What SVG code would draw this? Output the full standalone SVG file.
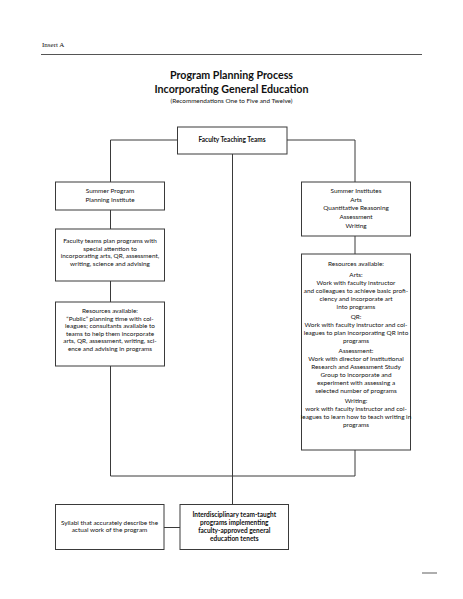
<svg xmlns="http://www.w3.org/2000/svg" width="463" height="599" viewBox="0 0 463 599">
<style>
.box{fill:#fff;stroke:#3a3a3a;stroke-width:1}
.ln{fill:none;stroke:#3a3a3a;stroke-width:1}
text{font-family:Lato,"Liberation Sans",sans-serif;fill:#111;text-anchor:middle}
.t{font-size:6.4px}
.b{font-size:6.5px;font-weight:bold}
.h{font-size:11.5px;font-weight:bold}
.s{font-size:6px}
</style>
<rect width="463" height="599" fill="#fff"/>
<g id="header">
<text x="42" y="46.5" style="font-family:'Liberation Serif',serif;font-size:7px;text-anchor:start">Insert A</text>
<line x1="41" y1="54.5" x2="422" y2="54.5" stroke="#555" stroke-width="1.2"/>
<line x1="422" y1="573" x2="437" y2="573" stroke="#777" stroke-width="1.2"/>
<text class="h" x="231.5" y="79" textLength="123" lengthAdjust="spacingAndGlyphs">Program Planning Process</text>
<text class="h" x="231.5" y="93" textLength="154" lengthAdjust="spacingAndGlyphs">Incorporating General Education</text>
<text class="s" x="231.5" y="102.5" textLength="122" lengthAdjust="spacingAndGlyphs">(Recommendations One to Five and Twelve)</text>
</g>
<g id="connectors">
<polyline class="ln" points="177,140 110.5,140 110.5,182"/>
<polyline class="ln" points="287,140 355,140 355,182"/>
<line class="ln" x1="232.5" y1="154" x2="232.5" y2="504"/>
<line class="ln" x1="110.5" y1="210" x2="110.5" y2="229"/>
<line class="ln" x1="110.5" y1="281" x2="110.5" y2="302"/>
<line class="ln" x1="355" y1="236" x2="355" y2="254"/>
<polyline class="ln" points="110.5,366 110.5,476 355,476 355,450"/>
<line class="ln" x1="164" y1="527.5" x2="180" y2="527.5"/>
</g>
<g id="faculty-teams">
<rect class="box" x="177.5" y="127" width="109.5" height="27"/>
<text class="b" x="232" y="142.3">Faculty Teaching Teams</text>
</g>
<g id="summer-program">
<rect class="box" x="55.5" y="182" width="109" height="28"/>
<text class="t" x="110" y="193">Summer Program</text>
<text class="t" x="110" y="201.5">Planning Institute</text>
</g>
<g id="summer-institutes">
<rect class="box" x="301.5" y="182" width="109" height="54"/>
<text class="t" x="356" y="193">Summer Institutes</text>
<text class="t" x="356" y="201.7">Arts</text>
<text class="t" x="356" y="210.4">Quantitative Reasoning</text>
<text class="t" x="356" y="219.1">Assessment</text>
<text class="t" x="356" y="227.8">Writing</text>
</g>
<g id="faculty-plan">
<rect class="box" x="55.5" y="229" width="109" height="52"/>
<text class="t" x="110" y="243">Faculty teams plan programs with</text>
<text class="t" x="110" y="250.5">special attention to</text>
<text class="t" x="110" y="258">incorporating arts, QR, assessment,</text>
<text class="t" x="110" y="265.5">writing, science and advising</text>
</g>
<g id="resources-left">
<rect class="box" x="55.5" y="302" width="109" height="64"/>
<text class="t" x="110" y="313">Resources available:</text>
<text class="t" x="110" y="320.5">“Public” planning time with col-</text>
<text class="t" x="110" y="328">leagues; consultants available to</text>
<text class="t" x="110" y="335.5">teams to help them incorporate</text>
<text class="t" x="110" y="343">arts, QR, assessment, writing, sci-</text>
<text class="t" x="110" y="350.5">ence and advising in programs</text>
</g>
<g id="resources-right">
<rect class="box" x="301.5" y="254" width="109" height="196"/>
<text class="t" x="356" y="265.5">Resources available:</text>
<text class="t" x="356" y="276.5">Arts:</text>
<text class="t" x="356" y="284.5">Work with faculty instructor</text>
<text class="t" x="356" y="292.5">and colleagues to achieve basic profi-</text>
<text class="t" x="356" y="300.5">ciency and incorporate art</text>
<text class="t" x="356" y="308.5">into programs</text>
<text class="t" x="356" y="318.5">QR:</text>
<text class="t" x="356" y="326.5">Work with faculty instructor and col-</text>
<text class="t" x="356" y="334.5">leagues to plan incorporating QR into</text>
<text class="t" x="356" y="342.5">programs</text>
<text class="t" x="356" y="352.5">Assessment:</text>
<text class="t" x="356" y="360.5">Work with director of Institutional</text>
<text class="t" x="356" y="368.5">Research and Assessment Study</text>
<text class="t" x="356" y="376.5">Group to incorporate and</text>
<text class="t" x="356" y="384.5">experiment with assessing a</text>
<text class="t" x="356" y="392.5">selected number of programs</text>
<text class="t" x="356" y="402.5">Writing:</text>
<text class="t" x="356" y="410.5">work with faculty instructor and col-</text>
<text class="t" x="356" y="418.5">leagues to learn how to teach writing in</text>
<text class="t" x="356" y="426.5">programs</text>
</g>
<g id="syllabi">
<rect class="box" x="55.5" y="504.5" width="108.5" height="45"/>
<text class="t" x="109.5" y="524.5">Syllabi that accurately describe the</text>
<text class="t" x="109.5" y="532.2">actual work of the program</text>
</g>
<g id="interdisciplinary">
<rect class="box" x="180" y="504.5" width="108.5" height="45"/>
<text class="b" x="234.3" y="516.5">Interdisciplinary team-taught</text>
<text class="b" x="234.3" y="524.8">programs implementing</text>
<text class="b" x="234.3" y="533.1">faculty-approved general</text>
<text class="b" x="234.3" y="541.4">education tenets</text>
</g>
</svg>
